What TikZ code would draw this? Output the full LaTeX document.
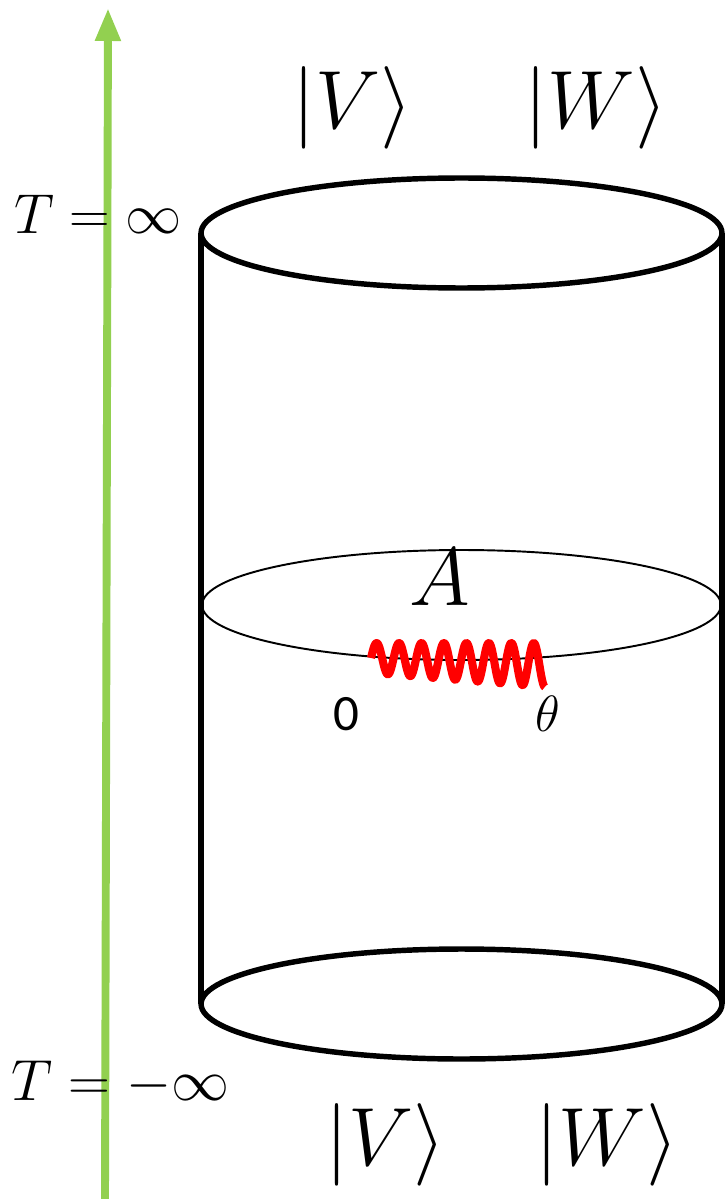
\RequirePackage{fix-cm}
\documentclass[tikz,border=0pt]{standalone}
\usepackage{fontspec}
\newfontfamily\labelfont{Carlito}
\usepackage{tikz}
\usetikzlibrary{arrows.meta, positioning}
\usepackage{amsmath}
\usepackage{xcolor}
\definecolor{timegreen}{HTML}{92D050}

\begin{document}
\begin{tikzpicture}[
    x=0.02cm, y=-0.02cm,
    ket/.style={font=\fontsize{47}{52}\selectfont, inner sep=0pt},
    timelabel/.style={anchor=base west, inner sep=0pt},
    rim/.style={line width=3.1pt},
    slice/.style={line width=1.1pt},
    timearrow/.style={-{Triangle[length=0.66cm, width=0.48cm]}, line width=4.5pt, draw=timegreen},
    wave/.style={line width=4.6pt, red, line join=round}
]
\useasboundingbox (0,0) rectangle (726,1199);

% Time axis
\coordinate (tbottom) at (105,1199);
\coordinate (ttop) at (108,8);
\draw[timearrow] (tbottom) -- (ttop);
\node[timelabel, font=\fontsize{32}{36}\selectfont] (tplus) at (14,234) {$T=\infty$};
\node[timelabel, font=\fontsize{33}{38}\selectfont] (tminus) at (11,1100) {$T=-\infty$};

% Cylinder
\coordinate (topc) at (461.5,233);
\coordinate (midc) at (461.5,605);
\coordinate (botc) at (461.5,1004);
\draw[rim] (topc) ellipse [x radius=5.21cm, y radius=1.1cm];
\draw[slice] (midc) ellipse [x radius=5.19cm, y radius=1.1cm];
\draw[rim] (botc) ellipse [x radius=5.21cm, y radius=1.1cm];
\draw[rim] (201,233) -- (201,1004);
\draw[rim] (722,233) -- (722,1004);

% States at both ends
\node[ket] (vtop) at (353,108) {$|V\rangle$};
\node[ket] (wtop) at (596,108) {$|W\rangle$};
\node[ket] (vbot) at (386,1145) {$|V\rangle$};
\node[ket] (wbot) at (607,1145) {$|W\rangle$};

% Slice with the Wilson line
\node[font=\fontsize{47}{52}\selectfont, anchor=base, inner sep=0pt] (alabel) at (440,605) {$A$};
\draw[wave] plot[domain=0:1, samples=300] ({371+174*\x}, {658+7*\x-(15+7*\x)*sin(7.75*360*\x)});
\node[font=\labelfont\fontsize{29}{32}\selectfont, inner sep=0pt] (zero) at (346,714) {0};
\node[font=\fontsize{29}{32}\selectfont, inner sep=0pt] (theta) at (548,714) {$\theta$};

\end{tikzpicture}
\end{document}
